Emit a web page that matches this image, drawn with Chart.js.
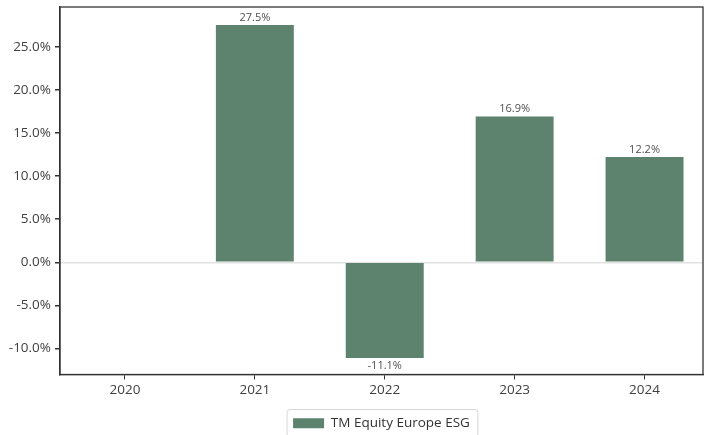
<!DOCTYPE html>
<html>
<head>
<meta charset="utf-8">
<script src="https://cdn.jsdelivr.net/npm/chart.js@4"></script>
<style>
  body { margin: 0; background: #fff; }
  #wrap { width: 707px; height: 435px; }
</style>
</head>
<body>
<div id="wrap"><canvas id="chartReturns"></canvas></div>
<script>
// DATA
const years = ['2020', '2021', '2022', '2023', '2024'];
const returns = [null, 27.5, -11.1, 16.9, 12.2];
const seriesName = 'TM Equity Europe ESG';
const yMin = -13.0, yMax = 29.6, yStep = 5;

const barColor = '#5d826d';
const textColor = '#404040';
const axisColor = '#333';
const fontFamily = '"Open Sans", "Noto Sans", sans-serif';

// bars on a linear x axis so the right edge can be cut short like the reference
const points = returns
    .map((v, i) => ({ x: i, y: v }))
    .filter(p => p.y !== null);

// value labels above / below each bar
const barLabels = {
    id: 'barLabels',
    afterDatasetsDraw(chart) {
        const ctx = chart.ctx;
        const meta = chart.getDatasetMeta(0);
        ctx.save();
        ctx.font = '11px ' + fontFamily;
        ctx.fillStyle = '#505050';
        ctx.textAlign = 'center';
        meta.data.forEach((bar, i) => {
            const v = points[i].y;
            if (v >= 0) {
                ctx.textBaseline = 'bottom';
                ctx.fillText(v.toFixed(1) + '%', bar.x, bar.y - 2);
            } else {
                ctx.textBaseline = 'top';
                ctx.fillText(v.toFixed(1) + '%', bar.x, bar.y + 2);
            }
        });
        ctx.restore();
    }
};

// frame round the plot and round the legend
const frames = {
    id: 'frames',
    afterDraw(chart) {
        const ctx = chart.ctx;
        const a = chart.chartArea;
        ctx.save();
        ctx.strokeStyle = axisColor;
        ctx.lineWidth = 1.3;
        ctx.strokeRect(a.left, a.top, a.right - a.left, a.bottom - a.top);

        const hb = chart.legend.legendHitBoxes[0];
        if (hb) {
            ctx.strokeStyle = '#d6d6d6';
            ctx.lineWidth = 1;
            ctx.beginPath();
            ctx.roundRect(hb.left - 6, hb.top - 7, hb.width + 14, hb.height + 14, 3);
            ctx.stroke();
        }
        ctx.restore();
    }
};

new Chart(document.getElementById('chartReturns').getContext('2d'), {
    type: 'bar',
    data: {
        datasets: [{
            label: seriesName,
            data: points,
            backgroundColor: barColor,
            borderWidth: 0,
            barPercentage: 0.6,
            categoryPercentage: 1
        }]
    },
    options: {
        responsive: true,
        maintainAspectRatio: false,
        animation: false,
        layout: { padding: { top: 7, right: 4, left: 4, bottom: -5 } },
        scales: {
            x: {
                type: 'linear',
                min: -0.5,
                max: 4.45,
                offset: false,
                afterBuildTicks(scale) {
                    scale.ticks = years.map((y, i) => ({ value: i }));
                },
                afterFit(scale) { scale.height = 41; },
                ticks: {
                    callback: v => years[v],
                    color: textColor,
                    font: { family: fontFamily, size: 13.5 },
                    padding: 3,
                    maxRotation: 0
                },
                grid: {
                    offset: false,
                    drawOnChartArea: false,
                    tickLength: 5,
                    tickColor: axisColor
                },
                border: { color: axisColor, width: 1.3 }
            },
            y: {
                min: yMin,
                max: yMax,
                afterFit(scale) {
                    scale.width = 56;
                    scale.paddingTop = 0;
                    scale.paddingBottom = 0;
                },
                ticks: {
                    stepSize: yStep,
                    includeBounds: false,
                    callback: v => v.toFixed(1) + '%',
                    color: textColor,
                    font: { family: fontFamily, size: 13.5 },
                    padding: 4
                },
                grid: {
                    color: c => (c.tick && c.tick.value === 0) ? '#e2e2e2' : 'rgba(0,0,0,0)',
                    lineWidth: 1.5,
                    tickLength: 5,
                    tickColor: axisColor
                },
                border: { color: axisColor, width: 1.3 }
            }
        },
        plugins: {
            legend: {
                position: 'bottom',
                fullSize: false,
                labels: {
                    boxWidth: 31,
                    boxHeight: 10,
                    color: '#333',
                    font: { family: fontFamily, size: 13.5 },
                    padding: 1
                }
            },
            tooltip: { enabled: false }
        }
    },
    plugins: [barLabels, frames]
});
</script>
</body>
</html>
